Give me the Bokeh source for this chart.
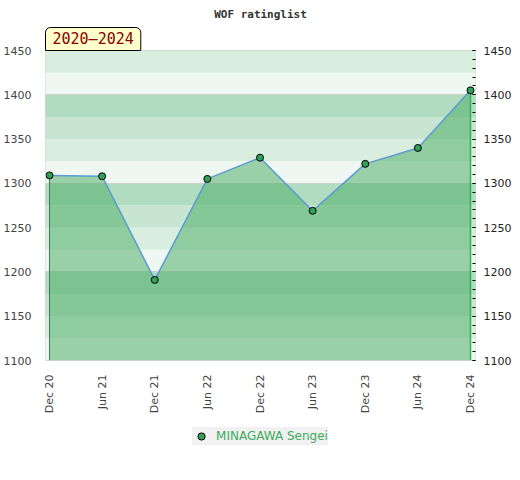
import math
from bokeh.plotting import figure
from bokeh.layouts import column
from bokeh.models import (ColumnDataSource, FixedTicker, LinearAxis, Legend,
                          LegendItem, Title, Range1d)
from bokeh.embed import file_html
from bokeh.resources import INLINE

# ---- data ----
periods = ["Dec 20", "Jun 21", "Dec 21", "Jun 22", "Dec 22",
           "Jun 23", "Dec 23", "Jun 24", "Dec 24"]
ratings = [1309, 1308, 1191, 1305, 1329, 1269, 1322, 1340, 1405]
y_ticks = [1100, 1150, 1200, 1250, 1300, 1350, 1400, 1450]
player = "MINAGAWA Sengei"
chart_title = "WOF ratinglist"
period_label = "2020\u20132024"

# ---- style ----
band_colors = ["#eef7f1", "#daeee0", "#c8e5d1", "#b2dcc0"]
marker_fill = "#33a05a"
y_min, y_max = y_ticks[0], y_ticks[-1]
band_step = 25

x = list(range(len(periods)))
src = ColumnDataSource(dict(x=x, y=ratings, base=[y_min] * len(x)))

p = figure(frame_width=430, frame_height=310, output_backend="svg", toolbar_location=None,
           x_range=Range1d(-0.076, len(x) - 1 + 0.095),
           y_range=Range1d(y_min, y_max),
           min_border_left=37, min_border_right=37,
           min_border_top=0, min_border_bottom=60,
           background_fill_color="white", border_fill_color="white")
p.margin = (1, 0, 0, 0)

p.title.text = chart_title
p.title.align = "center"
p.title.text_font = "DejaVu Sans Mono"
p.title.text_font_size = "11px"
p.title.text_font_style = "bold"
p.title.text_color = "#333333"
p.title.standoff = 9

# period label box, directly above the frame
box = Title(text=period_label, align="left", offset=0, standoff=0,
            text_font="DejaVu Sans Mono", text_font_size="15px",
            text_font_style="normal", text_color="#8b0000",
            background_fill_color="#ffffcc", border_line_color="black",
            border_line_width=1, padding=(7, 7, 2, 3),
            border_radius=dict(top_left=5, top_right=5, bottom_right=0, bottom_left=0))
p.add_layout(box, "above")

p.outline_line_color = "#d4d4d4"
p.xgrid.visible = False
p.ygrid.visible = False

# background bands
bottoms = list(range(y_min, y_max, band_step))
tops = [b + band_step for b in bottoms]
cols = [band_colors[((b - y_min) // band_step) % 4] for b in bottoms]
p.quad(left=-10, right=len(x) + 10, bottom=bottoms, top=tops,
       fill_color=cols, line_color=None)
# faint lines at hundreds
p.hspan(y=[t for t in y_ticks if t % 100 == 0 and y_min < t < y_max],
        line_color="#cfcfcf", line_width=1)

# area under the line
p.varea(x="x", y1="base", y2="y", source=src, fill_color="#44a95f", fill_alpha=0.5)
# edges of the area
p.segment(x0=[x[0]], y0=[y_min], x1=[x[0]], y1=[ratings[0]],
          line_color="#3d7a50", line_width=1)
p.segment(x0=[x[-1]], y0=[y_min], x1=[x[-1]], y1=[ratings[-1]],
          line_color="#2db34f", line_width=1.5)

p.line("x", "y", source=src, line_color="#5a9bd4", line_width=1.5)
pts = p.scatter("x", "y", source=src, size=7, fill_color=marker_fill,
                line_color="black", line_width=1)

# axes
p.yaxis.ticker = FixedTicker(ticks=y_ticks)
p.yaxis.axis_line_color = None
p.yaxis.major_tick_line_color = None
p.yaxis.minor_tick_line_color = None
p.yaxis.major_label_text_font = "DejaVu Sans"
p.yaxis.major_label_text_font_size = "11px"
p.yaxis.major_label_text_color = "#444444"
p.yaxis.major_label_standoff = 8

minor = [v for v in range(y_min, y_max + 1, 10)]
raxis = LinearAxis(ticker=FixedTicker(ticks=y_ticks, minor_ticks=minor))
raxis.axis_line_color = None
raxis.major_tick_in = 3
raxis.major_tick_out = 0
raxis.minor_tick_in = 3
raxis.minor_tick_out = 0
raxis.major_tick_line_color = "black"
raxis.minor_tick_line_color = "black"
raxis.major_label_text_font = "DejaVu Sans"
raxis.major_label_text_font_size = "11px"
raxis.major_label_text_color = "#222222"
raxis.major_label_standoff = 8
p.add_layout(raxis, "right")

p.xaxis.ticker = FixedTicker(ticks=x)
p.xaxis.major_label_overrides = {i: s for i, s in zip(x, periods)}
p.xaxis.major_label_orientation = math.pi / 2
p.xaxis.axis_line_color = None
p.xaxis.major_tick_line_color = None
p.xaxis.minor_tick_line_color = None
p.xaxis.major_label_text_font = "DejaVu Sans"
p.xaxis.major_label_text_font_size = "11px"
p.xaxis.major_label_text_color = "#444444"
p.xaxis.major_label_standoff = 8

# ---- legend strip below the chart ----
lf = figure(frame_width=430, frame_height=32, output_backend="svg", toolbar_location=None,
            x_axis_location=None, y_axis_location=None,
            min_border_left=37, min_border_right=37, min_border_top=0, min_border_bottom=0,
            background_fill_color="white", border_fill_color="white")
lf.outline_line_color = None
lf.xgrid.visible = False
lf.ygrid.visible = False
lpts = lf.scatter("x", "y", source=src, size=7, fill_color=marker_fill,
                  line_color="black", line_width=1, visible=False)
legend = Legend(items=[LegendItem(label=player, renderers=[lpts])],
                location="center", orientation="horizontal",
                background_fill_color="#f0f0f0", border_line_color=None,
                inactive_fill_alpha=0,
                label_text_color="#3cab5e", label_text_font="DejaVu Sans",
                label_text_font_size="12px", padding=1, glyph_height=18,
                glyph_width=18, label_height=18, label_standoff=6, margin=0)
lf.add_layout(legend)

layout = column(p, lf, spacing=0)
open("out.html", "w").write(file_html(layout, INLINE))
